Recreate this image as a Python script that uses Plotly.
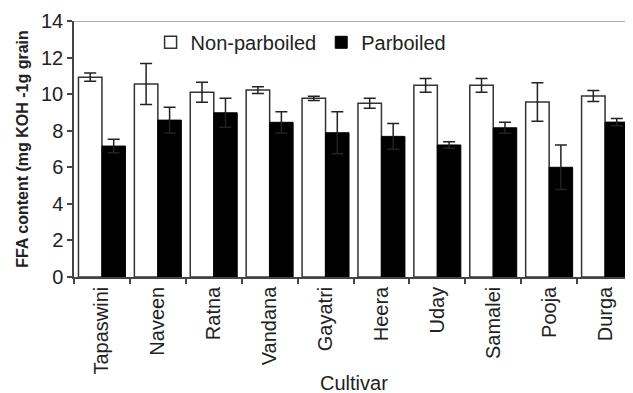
import plotly.graph_objects as go

cultivars = ["Tapaswini", "Naveen", "Ratna", "Vandana", "Gayatri", "Heera", "Uday", "Samalei", "Pooja", "Durga"]
non_parboiled = [10.93, 10.55, 10.1, 10.22, 9.77, 9.5, 10.48, 10.48, 9.57, 9.9]
non_parboiled_err = [0.22, 1.12, 0.55, 0.18, 0.12, 0.27, 0.38, 0.38, 1.05, 0.3]
parboiled = [7.16, 8.58, 8.98, 8.46, 7.89, 7.69, 7.22, 8.16, 6.0, 8.47]
parboiled_err = [0.37, 0.7, 0.79, 0.58, 1.15, 0.71, 0.18, 0.3, 1.22, 0.2]
y_ticks = [0, 2, 4, 6, 8, 10, 12, 14]

font_family = "Liberation Sans, Arial, sans-serif"
txt = "#222222"

fig = go.Figure()
fig.add_trace(go.Bar(
    x=cultivars, y=non_parboiled, name="Non-parboiled",
    marker=dict(color="white", line=dict(color="#333333", width=1.5)),
    error_y=dict(type="data", array=non_parboiled_err, visible=True,
                 color=txt, thickness=1.5, width=6),
))
fig.add_trace(go.Bar(
    x=cultivars, y=parboiled, name="Parboiled",
    marker=dict(color="black", line=dict(color="black", width=1)),
    error_y=dict(type="data", array=parboiled_err, visible=True,
                 color=txt, thickness=1.5, width=6),
))

# page body has an 8px margin, so the figure is 8px smaller than the window
fig.update_layout(
    width=625, height=385,
    margin=dict(l=66, r=0, t=13, b=116, autoexpand=False),
    paper_bgcolor="white", plot_bgcolor="white",
    barmode="group", bargap=0.16, bargroupgap=0,
    font=dict(family=font_family, color=txt),
    showlegend=True,
    legend=dict(orientation="h", x=0.137, y=0.993, xanchor="left", yanchor="top",
                font=dict(size=20, color=txt), bgcolor="rgba(0,0,0,0)",
                traceorder="normal"),
    xaxis=dict(
        showline=True, linecolor="#444444", linewidth=1.5,
        ticks="outside", tickson="boundaries", ticklen=5, tickcolor="#444444", tickwidth=1.5,
        tickangle=-90, tickfont=dict(size=20, color=txt),
        showgrid=False, automargin=False,
    ),
    yaxis=dict(
        range=[0, 14], tickvals=y_ticks,
        showline=True, linecolor="#444444", linewidth=1.5,
        ticks="outside", ticklen=5, tickcolor="#444444", tickwidth=1.5,
        tickfont=dict(size=20, color=txt),
        title=dict(text="<b>FFA content (mg KOH -1g grain</b>", font=dict(size=16, color=txt), standoff=8),
        showgrid=False, zeroline=False, automargin=False,
    ),
    annotations=[dict(text="Cultivar", xref="paper", yref="paper", x=0.5, y=-0.414,
                      xanchor="center", yanchor="middle", showarrow=False,
                      font=dict(size=20, color=txt))],
)
fig.add_shape(type="line", xref="paper", yref="y", x0=0, x1=1, y0=14, y1=14,
              line=dict(color="#999999", width=1.5))

fig.write_html("out.html")
